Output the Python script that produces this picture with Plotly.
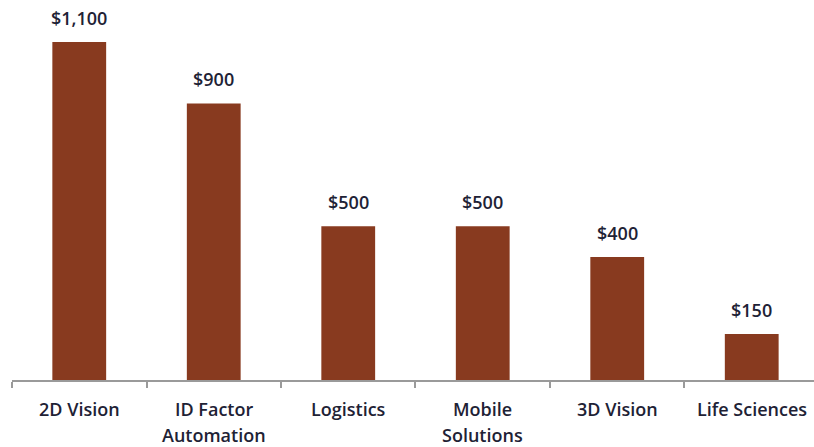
import plotly.graph_objects as go

# Market size by segment ($M)
categories = ["2D Vision", "ID Factor Automation", "Logistics",
              "Mobile Solutions", "3D Vision", "Life Sciences"]
label_lines = [["2D Vision"], ["ID Factor", "Automation"], ["Logistics"],
               ["Mobile", "Solutions"], ["3D Vision"], ["Life Sciences"]]
values = [1100, 900, 500, 500, 400, 150]
value_labels = ["$1,100", "$900", "$500", "$500", "$400", "$150"]

bar_color = "#883a1f"
text_color = "#1e2235"
label_font = dict(family="Open Sans", size=18, color=text_color, weight=600)

fig = go.Figure(
    go.Bar(
        x=categories,
        y=values,
        marker=dict(color=bar_color, line=dict(width=0)),
        width=0.4,
        hoverinfo="skip",
    )
)

# value labels above each bar
for cat, val, lab in zip(categories, values, value_labels):
    fig.add_annotation(
        x=cat, y=val, text=lab, showarrow=False,
        yanchor="middle", yshift=24,
        font=label_font,
    )

# category labels under the axis, one annotation per line
for cat, lines in zip(categories, label_lines):
    for i, line in enumerate(lines):
        fig.add_annotation(
            x=cat, xref="x", y=0, yref="paper", text=line, showarrow=False,
            yanchor="middle", yshift=-29 - 26 * i,
            font=label_font,
        )

fig.update_layout(
    width=814, height=447,
    margin=dict(l=12, r=0, t=0, b=67),
    plot_bgcolor="white", paper_bgcolor="white",
    showlegend=False,
)
fig.update_xaxes(
    type="category",
    range=[-0.5, 5.463],
    showline=True, linecolor="#9a9a9a", linewidth=1.5,
    ticks="outside", tickson="boundaries", ticklen=6,
    tickcolor="#9a9a9a", tickwidth=1.5,
    showticklabels=False,
    showgrid=False,
)
fig.update_yaxes(
    range=[0, 1236.6],
    visible=False, showgrid=False, zeroline=False,
)

fig.write_html("out.html")
